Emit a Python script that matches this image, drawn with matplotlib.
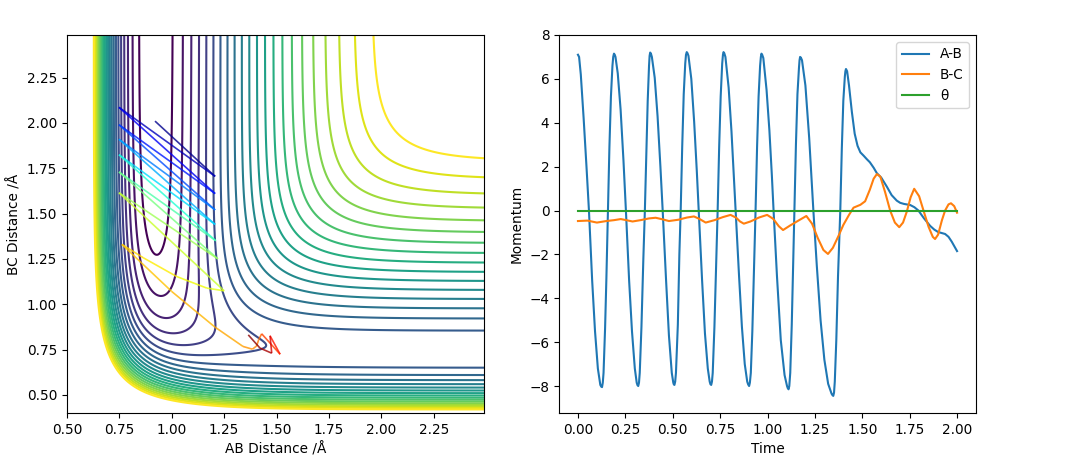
import numpy as np
import matplotlib
matplotlib.use("Agg")
import matplotlib.pyplot as plt
from matplotlib.collections import LineCollection

plt.rcParams["font.size"] = 9.85

# Potential energy surface: the contour field is computed from an F+H2 LEPS model
# whose constants were fitted to the contours seen in the picture (not read cell by cell).
D_HF, BETA_HF, RE_HF, S_HF = 6.12, 2.22, 0.917, 0.195
D_HH, BETA_HH, RE_HH, S_HH = 4.746, 1.94, 0.742, 0.16
LEVEL_LOW, LEVEL_STEP, LEVEL_COUNT = -5.925, 0.227, 22

traj_t = [0.0, 0.058, 0.158, 0.253, 0.353, 0.447, 0.542, 0.637, 0.737, 0.832, 0.937,
          1.032, 1.142, 1.242, 1.27, 1.30, 1.34, 1.384, 1.42, 1.45, 1.48, 1.52, 1.55, 1.58,
          1.62, 1.74, 1.80, 1.90, 1.95, 2.0]
traj_ab = [0.92, 1.207, 0.748, 1.207, 0.748, 1.207, 0.748, 1.207, 0.748, 1.21, 0.748,
           1.22, 0.748, 1.25, 1.167, 1.023, 0.863, 0.762, 1.0, 1.206, 1.34, 1.385, 1.405, 1.415,
           1.429, 1.517, 1.469, 1.477, 1.421, 1.365]
traj_bc = [2.01, 1.705, 2.086, 1.61, 1.99, 1.52, 1.91, 1.44, 1.825, 1.35, 1.73,
           1.25, 1.615, 1.074, 1.089, 1.153, 1.257, 1.33, 1.07, 0.874, 0.767, 0.752, 0.77, 0.805,
           0.837, 0.724, 0.826, 0.73, 0.758, 0.831]

time_ab = [0, .006, .015, .03, .045, .058, .075, .09, .105, .118, .123, .127, .131, .135, .143, .15, .158, .166, .174, .182, .186, .19,
           .194, .198, .21, .225, .24, .253, .27, .285, .30, .31, .314, .318, .322, .326, .335, .345, .353, .36, .368, .375, .378, .381,
           .385, .39, .405, .42, .435, .447, .465, .48, .495, .503, .506, .509, .513, .517, .527, .535, .542, .55, .558, .566, .570, .574,
           .578, .583, .598, .613, .627, .637, .655, .67, .685, .695, .699, .703, .707, .711, .72, .73, .737, .745, .753, .761, .765, .768,
           .772, .778, .795, .81, .822, .832, .85, .865, .88, .893, .898, .903, .907, .912, .92, .93, .937, .945, .953, .961, .965, .968,
           .972, .978, .995, 1.01, 1.023, 1.032, 1.05, 1.07, 1.09, 1.103, 1.107, 1.111, 1.115, 1.12, 1.128, 1.136, 1.142, 1.15, 1.158, 1.166, 1.169, 1.172,
           1.176, 1.182, 1.20, 1.22, 1.242, 1.26, 1.28, 1.30, 1.32, 1.338, 1.343, 1.347, 1.351, 1.355, 1.363, 1.372, 1.384, 1.392, 1.40, 1.408, 1.411, 1.414,
           1.42, 1.43, 1.445, 1.46, 1.475, 1.49, 1.507, 1.525, 1.54, 1.56, 1.577, 1.60, 1.63, 1.655, 1.682, 1.70, 1.72, 1.753, 1.775, 1.796, 1.825, 1.858, 1.88, 1.90, 1.937, 1.955, 1.972, 2.0]
p_ab = [7.10, 7.0, 6.2, 4.2, 2.0, 0, -3.2, -5.5, -7.2, -7.95, -8.03, -8.05, -7.85, -7.4, -5.4, -3.1, 0, 2.9, 5.2, 6.6, 7.0, 7.15,
        7.1, 7.0, 6.25, 4.6, 2.3, 0, -3.2, -5.5, -7.2, -7.85, -7.96, -8.0, -7.85, -7.4, -5.3, -2.2, 0, 2.4, 5.0, 6.6, 7.05, 7.2,
        7.15, 7.0, 6.05, 4.3, 2.0, 0, -3.2, -5.7, -7.4, -7.85, -7.93, -7.95, -7.8, -7.4, -5.2, -2.0, 0, 2.9, 5.3, 6.7, 7.1, 7.22,
        7.17, 7.05, 6.0, 4.05, 1.8, 0, -3.2, -5.6, -7.2, -7.8, -7.92, -7.95, -7.8, -7.4, -5.3, -2.2, 0, 2.9, 5.2, 6.7, 7.1, 7.22,
        7.17, 7.0, 5.6, 3.6, 1.6, 0, -3.0, -5.3, -7.0, -7.8, -7.93, -8.0, -7.85, -7.4, -5.5, -2.3, 0, 2.9, 5.2, 6.6, 7.0, 7.15,
        7.1, 6.95, 5.5, 3.65, 1.6, 0, -3.0, -5.9, -7.5, -8.0, -8.1, -8.15, -8.0, -7.4, -5.2, -2.2, 0, 3.0, 5.3, 6.5, 6.85, 7.0,
        6.97, 6.85, 5.7, 3.3, 0, -2.5, -5.0, -6.8, -7.9, -8.35, -8.42, -8.45, -8.3, -7.8, -5.9, -3.0, 0, 2.8, 5.0, 6.1, 6.35, 6.45,
        6.35, 5.7, 4.5, 3.5, 2.95, 2.65, 2.5, 2.33, 2.2, 1.95, 1.7, 1.5, 1.08, 0.7, 0.45, 0.35, 0.3, 0.25, 0.15, 0, -0.35, -0.7, -0.87, -0.98, -1.07, -1.2, -1.42, -1.85]

time_bc = [0, .05, .1, .15, .19, .226, .255, .288, .33, .375, .41, .445, .48, .53, .575, .612, .64, .674, .72, .765, .805,
           .835, .855, .875, .91, .955, .998, 1.03, 1.06, 1.082, 1.12, 1.165, 1.205, 1.235, 1.265, 1.295, 1.319, 1.345, 1.375, 1.40,
           1.43, 1.454, 1.49, 1.515, 1.54, 1.56, 1.577, 1.595, 1.62, 1.647, 1.672, 1.695, 1.715, 1.735, 1.755, 1.774, 1.80, 1.823,
           1.85, 1.872, 1.884, 1.90, 1.92, 1.937, 1.955, 1.968, 1.985, 2.0]
p_bc = [-.48, -.46, -.55, -.48, -.44, -.39, -.44, -.5, -.44, -.36, -.33, -.4, -.48, -.42, -.32, -.27, -.38, -.55, -.44, -.3, -.2,
        -.33, -.5, -.6, -.5, -.32, -.2, -.38, -.72, -.89, -.68, -.45, -.25, -.6, -1.25, -1.8, -1.98, -1.7, -1.15, -.66,
        -.2, .13, .26, .42, .95, 1.45, 1.66, 1.55, .85, 0, -.55, -.76, -.55, -.05, .6, .99, .65, 0,
        -.75, -1.2, -1.3, -1.1, -.45, 0, .28, .33, .2, -.1]

time_theta = [0, 2]
p_theta = [0, 0]


def pair_terms(r, d, beta, re, s):
    u = np.exp(-beta * (r - re))
    k = d / (4 * (1 + s))
    q = k * ((3 + s) * u ** 2 - (2 + 6 * s) * u)
    j = k * ((1 + 3 * s) * u ** 2 - (6 + 2 * s) * u)
    return q, j


def surface(rab, rbc):
    qa, ja = pair_terms(rab, D_HF, BETA_HF, RE_HF, S_HF)
    qb, jb = pair_terms(rbc, D_HH, BETA_HH, RE_HH, S_HH)
    qc, jc = pair_terms(rab + rbc, D_HF, BETA_HF, RE_HF, S_HF)
    return qa + qb + qc - np.sqrt(ja**2 + jb**2 + jc**2 - ja*jb - jb*jc - ja*jc)


fig = plt.figure(figsize=(10.69, 4.75), dpi=100)
ax1 = fig.add_axes([67 / 1069, 62 / 475, 417 / 1069, 378 / 475])
ax2 = fig.add_axes([559 / 1069, 62 / 475, 417 / 1069, 378 / 475])

xg, yg = np.meshgrid(np.arange(0.5, 2.5, 0.005), np.arange(0.4, 2.5, 0.005))
levels = LEVEL_LOW + LEVEL_STEP * np.arange(LEVEL_COUNT)
ax1.contour(xg, yg, surface(xg, yg), levels=levels, cmap="viridis")

pts = np.column_stack([traj_ab, traj_bc])
segs = np.stack([pts[:-1], pts[1:]], axis=1)
tvals = np.array(traj_t)
ax1.add_collection(LineCollection(segs, colors=plt.cm.jet((tvals[:-1] + tvals[1:]) / 4),
                                  linewidths=1.2, alpha=0.8))
ax1.set_xlim(0.5, 2.49)
ax1.set_ylim(0.4, 2.485)
ax1.set_xticks(np.arange(0.5, 2.3, 0.25))
ax1.set_yticks(np.arange(0.5, 2.3, 0.25))
ax1.set_xlabel("AB Distance /Å")
ax1.set_ylabel("BC Distance /Å")

ax2.plot(time_ab, p_ab, label="A-B")
ax2.plot(time_bc, p_bc, label="B-C")
ax2.plot(time_theta, p_theta, label="θ")
ax2.set_xlim(-0.1, 2.1)
ax2.set_ylim(-9.23, 8)
ax2.set_xticks(np.arange(0, 2.01, 0.25))
ax2.set_xlabel("Time")
ax2.set_ylabel("Momentum")
ax2.legend(loc="upper right")

fig.savefig("out.png", dpi=100)
